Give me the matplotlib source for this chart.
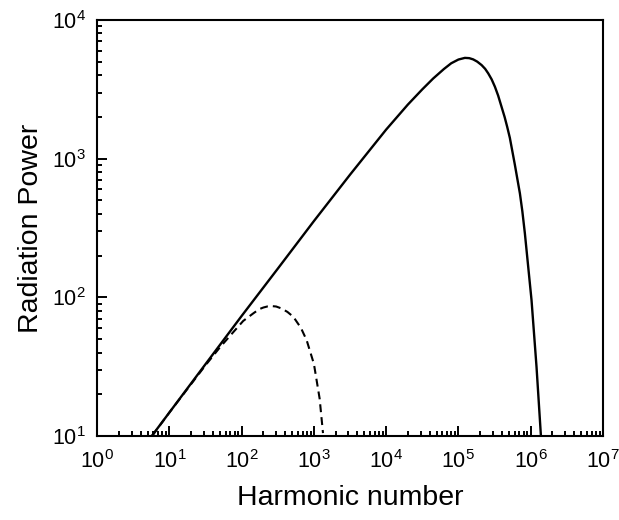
import numpy as np
import matplotlib
matplotlib.use("Agg")
import matplotlib.pyplot as plt
from matplotlib.ticker import LogLocator, NullFormatter

plt.rcParams['font.family'] = ['Liberation Sans', 'DejaVu Sans']
plt.rcParams['mathtext.default'] = 'regular'

# values (harmonic number, power)
solid_n = [5.69, 10, 31.6, 100, 316, 1000, 3162, 10000, 19950, 31620,
           44670, 63100, 79430, 100000, 123000, 141250, 160300, 182000,
           209400, 234400, 258800, 288400, 319900, 354800, 395400, 436500,
           473200, 515200, 602600, 709600, 767400, 831800, 1028000,
           1205000, 1384000]
solid_p = [10, 14.8, 33.0, 73.5, 161, 355, 767, 1622, 2455, 3162,
           3784, 4436, 4875, 5188, 5333, 5309, 5200, 5012,
           4732, 4446, 4121, 3733, 3304, 2851, 2366, 1995,
           1698, 1413, 912, 562, 417, 289, 95.5,
           31.6, 10.2]

dash_n = [5.75, 10, 31.6, 50, 71, 105, 145, 175, 200, 230, 260, 300, 355,
          430, 519, 660, 794, 1000, 1200, 1335]
dash_p = [10, 14.8, 32.4, 43.6, 53.7, 67.6, 76.7, 82.2, 84.5, 86.1, 86.5,
          85.9, 83.2, 78.5, 72.4, 60.3, 49.0, 33.1, 18.6, 10.5]

fig = plt.figure(figsize=(6.19, 5.20), dpi=100)
ax = fig.add_axes([0.157, 0.1615, 0.817, 0.800])

ax.plot(solid_n, solid_p, color='black', lw=1.7)
ax.plot(dash_n, dash_p, color='black', lw=1.5, dashes=(3.8, 2.4))

ax.set_xscale('log')
ax.set_yscale('log')
ax.set_xlim(1, 1e7)
ax.set_ylim(10, 1e4)
ax.set_xticks([10**k for k in range(8)])
ax.set_yticks([10**k for k in range(1, 5)])
for a in (ax.xaxis, ax.yaxis):
    a.set_minor_locator(LogLocator(base=10, subs=range(2, 10), numticks=100))
    a.set_minor_formatter(NullFormatter())

for s in ax.spines.values():
    s.set_linewidth(1.5)
ax.tick_params(which='both', direction='in', top=False, right=False,
               width=1.4, labelsize=15.5)
ax.tick_params(axis='x', which='both', pad=10)
ax.tick_params(axis='y', which='both', pad=8)
ax.tick_params(which='major', length=7)
ax.tick_params(which='minor', length=3.5)

ax.set_xlabel('Harmonic number', fontsize=20.5, labelpad=9)
ax.set_ylabel('Radiation Power', fontsize=20.5, labelpad=6)

fig.savefig('out.png', dpi=100)
